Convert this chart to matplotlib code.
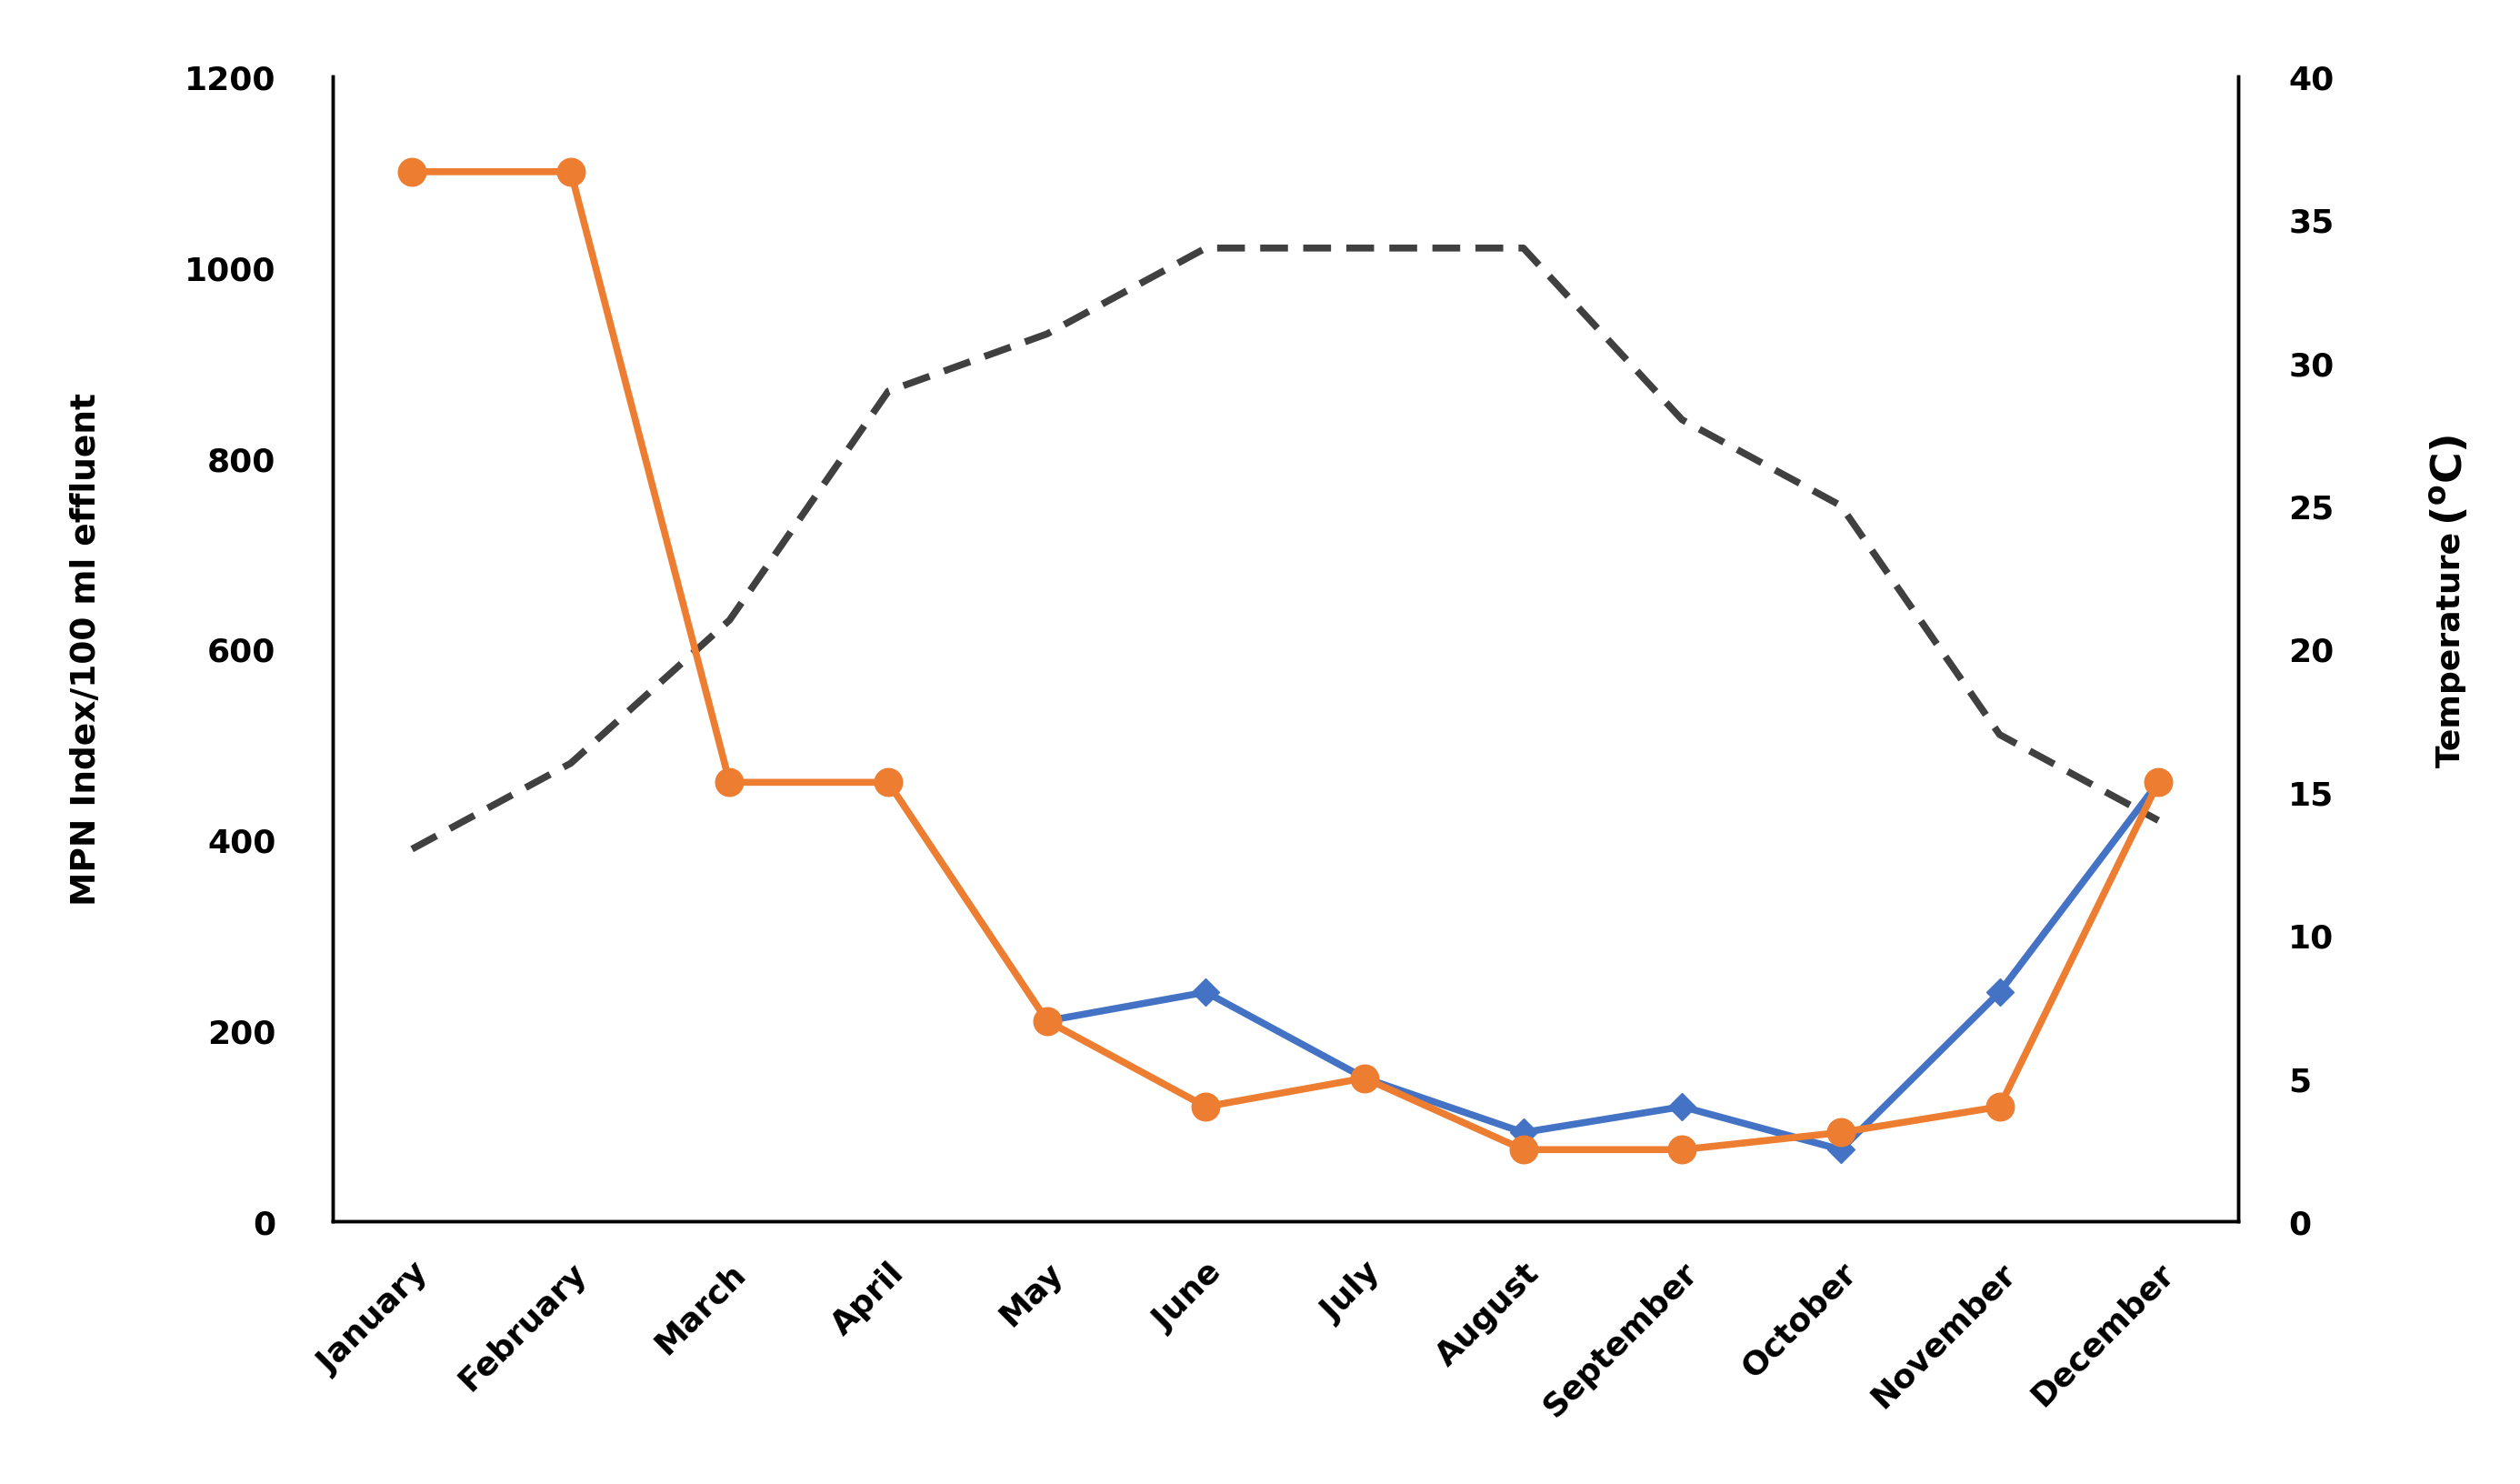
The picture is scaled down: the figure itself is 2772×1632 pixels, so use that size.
import matplotlib
matplotlib.use("Agg")
import matplotlib.pyplot as plt
import numpy as np

months = ["January", "February", "March", "April", "May", "June", "July",
          "August", "September", "October", "November", "December"]
# MPN index per 100 ml effluent
mpn_orange = [1100, 1100, 460, 460, 210, 120, 150, 75, 75, 93, 120, 460]
mpn_blue = [None, None, None, None, 210, 240, 150, 93, 120, 75, 240, 460]
# temperature (oC)
temperature = [13, 16, 21, 29, 31, 34, 34, 34, 28, 25, 17, 14]

plt.rcParams['font.family'] = ['DejaVu Sans']

fig = plt.figure(figsize=(27.72, 16.33), dpi=100)
ax = fig.add_axes([0.132, 0.177, 0.756, 0.771])
ax2 = ax.twinx()

x = np.arange(len(months))

# temperature line on the secondary axis, kept behind the MPN lines
ax2.plot(x, temperature, color="#404040", lw=5.5, ls=(0, (4, 2.2)))
ax.set_zorder(ax2.get_zorder() + 1)
ax.patch.set_visible(False)

blue = np.array([np.nan if v is None else v for v in mpn_blue], dtype=float)
ax.plot(x, blue, color="#4472C4", lw=5.5, marker="D", ms=15, zorder=2)
ax.plot(x, mpn_orange, color="#ED7D31", lw=5.5, marker="o", ms=22, zorder=3)

ax.set_xlim(-0.5, 11.5)
ax.set_ylim(0, 1200)
ax2.set_ylim(0, 40)
ax.set_yticks(range(0, 1201, 200))
ax2.set_yticks(range(0, 41, 5))
ax.set_xticks(x)
ax.set_xticklabels(months, rotation=45, ha="right", rotation_mode="anchor",
                   fontsize=26, fontweight="bold")

for a in (ax, ax2):
    a.tick_params(length=0, labelsize=26)
    for lab in a.get_yticklabels():
        lab.set_fontweight("bold")
    a.spines["top"].set_visible(False)
    for s in ("left", "right", "bottom"):
        a.spines[s].set_linewidth(2.5)
ax.tick_params(axis="x", pad=28)
ax.tick_params(axis="y", pad=45)
ax2.tick_params(axis="y", pad=40)

ax.set_ylabel("MPN Index/100 ml effluent", fontsize=27, fontweight="bold",
              labelpad=65)
fig.text(0.9726, 0.563, "Temperature", rotation=90,
         fontsize=26, fontweight="bold", ha="center", va="center")
fig.text(0.9726, 0.677, r"($\mathbf{^{o}}$C)", rotation=90,
         fontsize=34, fontweight="bold", ha="center", va="center")

fig.savefig("out.png", dpi=100)
